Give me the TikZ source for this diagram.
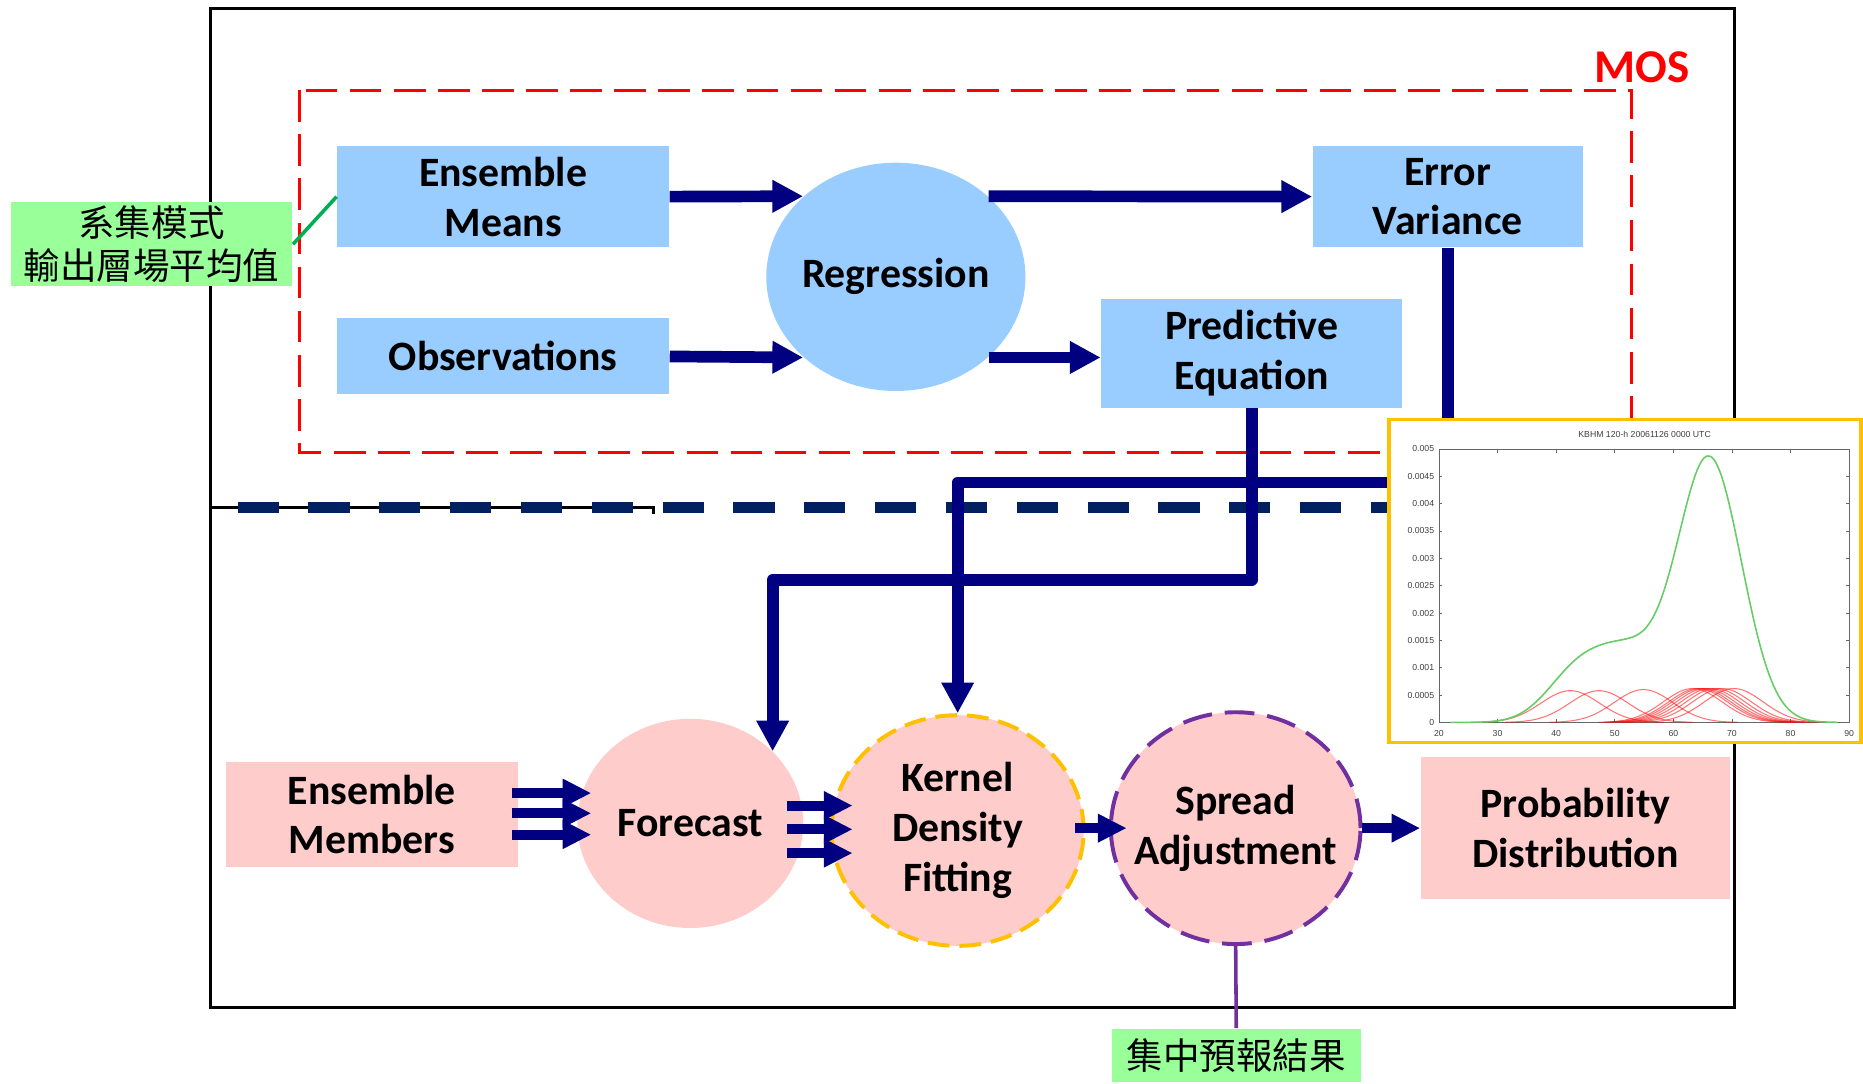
\documentclass[tikz,border=0pt]{standalone}
\usepackage{fontspec}
\setmainfont{Carlito}
\newfontfamily\cjkfont{Noto Sans CJK TC}
\newfontfamily\plotfont{Liberation Sans}
\usetikzlibrary{arrows.meta,shapes.geometric,positioning,calc}

\definecolor{meanblue}{HTML}{99CCFF}
\definecolor{fcpink}{HTML}{FFCCCC}
\definecolor{flownavy}{HTML}{000080}
\definecolor{splitnavy}{HTML}{002060}
\definecolor{notegreen}{HTML}{99FF99}
\definecolor{tiegreen}{HTML}{00B050}
\definecolor{kdeorange}{HTML}{FFC000}
\definecolor{spreadviolet}{HTML}{7030A0}
\definecolor{pdfgreen}{HTML}{66CC66}

\tikzset{declare function={kern(\x,\m)=exp(-(\x-\m)^2/50);}}

\begin{document}
\begin{tikzpicture}[x=0.012cm, y=-0.012cm,
  bluebox/.style={rectangle, fill=meanblue, inner sep=0pt, align=center,
                  font=\fontsize{12}{14.3}\selectfont\bfseries},
  pinkbox/.style={rectangle, fill=fcpink, inner sep=0pt, align=center,
                  font=\fontsize{12}{14.3}\selectfont\bfseries},
  bubble/.style={ellipse, inner sep=-0.2cm, align=center,
                 font=\fontsize{12}{14.3}\selectfont\bfseries},
  note/.style={rectangle, fill=notegreen, inner sep=0pt, align=center,
               font=\cjkfont\fontsize{10.5}{12.6}\selectfont},
  flow/.style={draw=flownavy, line width=0.118cm, line join=round,
               -{Triangle[length=0.31cm, width=0.31cm]}},
  smallflow/.style={draw=flownavy, line width=0.1cm,
                    -{Triangle[length=0.29cm, width=0.27cm]}},
  ticklabel/.style={font=\plotfont\fontsize{2.5}{3}\selectfont, inner sep=0pt, text=black!75},
  axisline/.style={black!60, line width=0.15pt}
]
\useasboundingbox (0,0) rectangle (1568,912);

% frames
\draw[line width=0.027cm] (177,7) rectangle (1460,848);
\draw[line width=0.024cm] (177,427) -- (550,427) -- (550,433);
\draw[splitnavy, line width=0.11cm, dash pattern=on 0.415cm off 0.3cm] (200,427) -- (1200,427);
\draw[red, line width=0.034cm, dash pattern=on 0.32cm off 0.125cm] (252,76) rectangle (1373,381);
\node[text=red, font=\fontsize{13.5}{16}\selectfont\bfseries] (moslabel) at (1382,57) {MOS};

% MOS part
\node[bluebox, minimum width=3.348cm, minimum height=1.02cm] (means) at (423.5,165.5) {Ensemble\\Means};
\node[bluebox, minimum width=3.348cm, minimum height=0.768cm] (obs) at (423.5,300) {Observations};
\node[bubble, fill=meanblue, minimum width=2.616cm, minimum height=2.304cm] (reg) at (754,233) {Regression};
\node[bluebox, minimum width=2.724cm, minimum height=1.02cm] (errvar) at (1218.5,165.5) {Error\\Variance};
\node[bluebox, minimum width=3.036cm, minimum height=1.092cm] (pred) at (1053.5,297.5) {Predictive\\Equation};

% ensemble part
\node[pinkbox, minimum width=2.952cm, minimum height=1.068cm] (members) at (313,685.5) {Ensemble\\Members};
\node[bubble, fill=fcpink, minimum width=2.28cm, minimum height=2.112cm] (fc) at (581,693) {Forecast};
\node[bubble, fill=fcpink, draw=kdeorange, line width=0.04cm, dash pattern=on 0.22cm off 0.1cm,
      minimum width=2.544cm, minimum height=2.328cm] (kde) at (806,699) {Kernel\\Density\\Fitting};
\node[bubble, fill=fcpink, draw=spreadviolet, line width=0.04cm, dash pattern=on 0.3cm off 0.13cm,
      minimum width=2.52cm, minimum height=2.34cm] (spread) at (1040,697) {Spread\\Adjustment};
\node[pinkbox, minimum width=3.12cm, minimum height=1.44cm] (prob) at (1326,697) {Probability\\Distribution};

% notes
\node[note, minimum width=2.844cm, minimum height=0.852cm] (meannote) at (127.5,205.5) {系集模式\\輸出層場平均值};
\node[note, minimum width=2.508cm, minimum height=0.54cm] (ensnote) at (1040.5,888.5) {集中預報結果};
\draw[tiegreen, line width=0.036cm] (meannote.east) -- (means.west);
\draw[spreadviolet, line width=0.036cm] (spread.south) -- (ensnote.north);

% connectors
\coordinate (evbend) at (806,406);
\coordinate (pebend) at (650.3,488);
\draw[flow] (means.east) -- (reg.139);
\draw[flow] (obs.east) -- (reg.221);
\draw[flow] (reg.41) -- (errvar.west);
\draw[flow] (reg.-41) -- (reg.-41 -| pred.west);
\draw[flow] (errvar.south) |- (evbend) -- (kde.north);
\draw[flow] (pred.south) |- (pebend) -- (pebend |- fc.41);

\foreach \dy in {-18,-1,17}
  \draw[smallflow] ($(members.east)+(-6,\dy)$) -- +(67,0);
\foreach \dy in {-15,5,25}
  \draw[smallflow] ($(fc.east)+(-14,\dy)$) -- +(55,0);
\draw[smallflow] ($(kde.east)+(-9,-2)$) -- ($(spread.west)+(15,0)$);
\draw[smallflow] (spread.east) -- (prob.west);

% inset plot
\node[draw=kdeorange, line width=0.036cm, fill=white, minimum width=4.764cm, minimum height=3.264cm,
      inner sep=0pt] (plotbox) at (1367.5,489) {};
\begin{scope}[shift={(1112.4,608)}, x=0.05916cm, y=0.552cm]
  \draw[axisline] (20,0) rectangle (90,5);
  \foreach \v in {30,40,...,80}
    \draw[axisline] (\v,0) -- (\v,0.07) (\v,5) -- (\v,4.93);
  \foreach \v in {0.5,1,...,4.5}
    \draw[axisline] (20,\v) -- (20.6,\v) (90,\v) -- (89.4,\v);
  \foreach \v in {20,30,...,90}
    \node[ticklabel] (xtick\v) at (\v,-0.2) {\v};
  \foreach \v/\txt [count=\i] in {0/0,0.5/0.0005,1/0.001,1.5/0.0015,2/0.002,2.5/0.0025,
                                  3/0.003,3.5/0.0035,4/0.004,4.5/0.0045,5/0.005}
    \node[ticklabel, anchor=east] (ytick\i) at (19.3,\v) {\txt};
  \node[ticklabel] (plottitle) at (55.1,5.26) {KBHM 120-h 20061126 0000 UTC};
  \foreach \ctr/\hgt in {42.4/0.58,47.3/0.58,54.9/0.60,63.3/0.62,64.2/0.62,64.8/0.62,
                         65.5/0.62,66.3/0.62,67.2/0.62,68.3/0.62,70.3/0.62}
    \draw[red, opacity=0.55, line width=0.3pt]
      plot[domain=\ctr-16:\ctr+16, samples=50, smooth] (\x, {\hgt*kern(\x,\ctr)});
  \draw[pdfgreen, line width=0.45pt]
    plot[domain=22:88, samples=120, smooth]
    (\x, {1.06*(0.58*kern(\x,42.4)+0.58*kern(\x,47.3)+0.60*kern(\x,54.9)
      +0.62*(kern(\x,63.3)+kern(\x,64.2)+kern(\x,64.8)+kern(\x,65.5)
      +kern(\x,66.3)+kern(\x,67.2)+kern(\x,68.3)+kern(\x,70.3)))
      +0.35*exp(-(\x-52)^2/40)});
\end{scope}
\end{tikzpicture}
\end{document}
